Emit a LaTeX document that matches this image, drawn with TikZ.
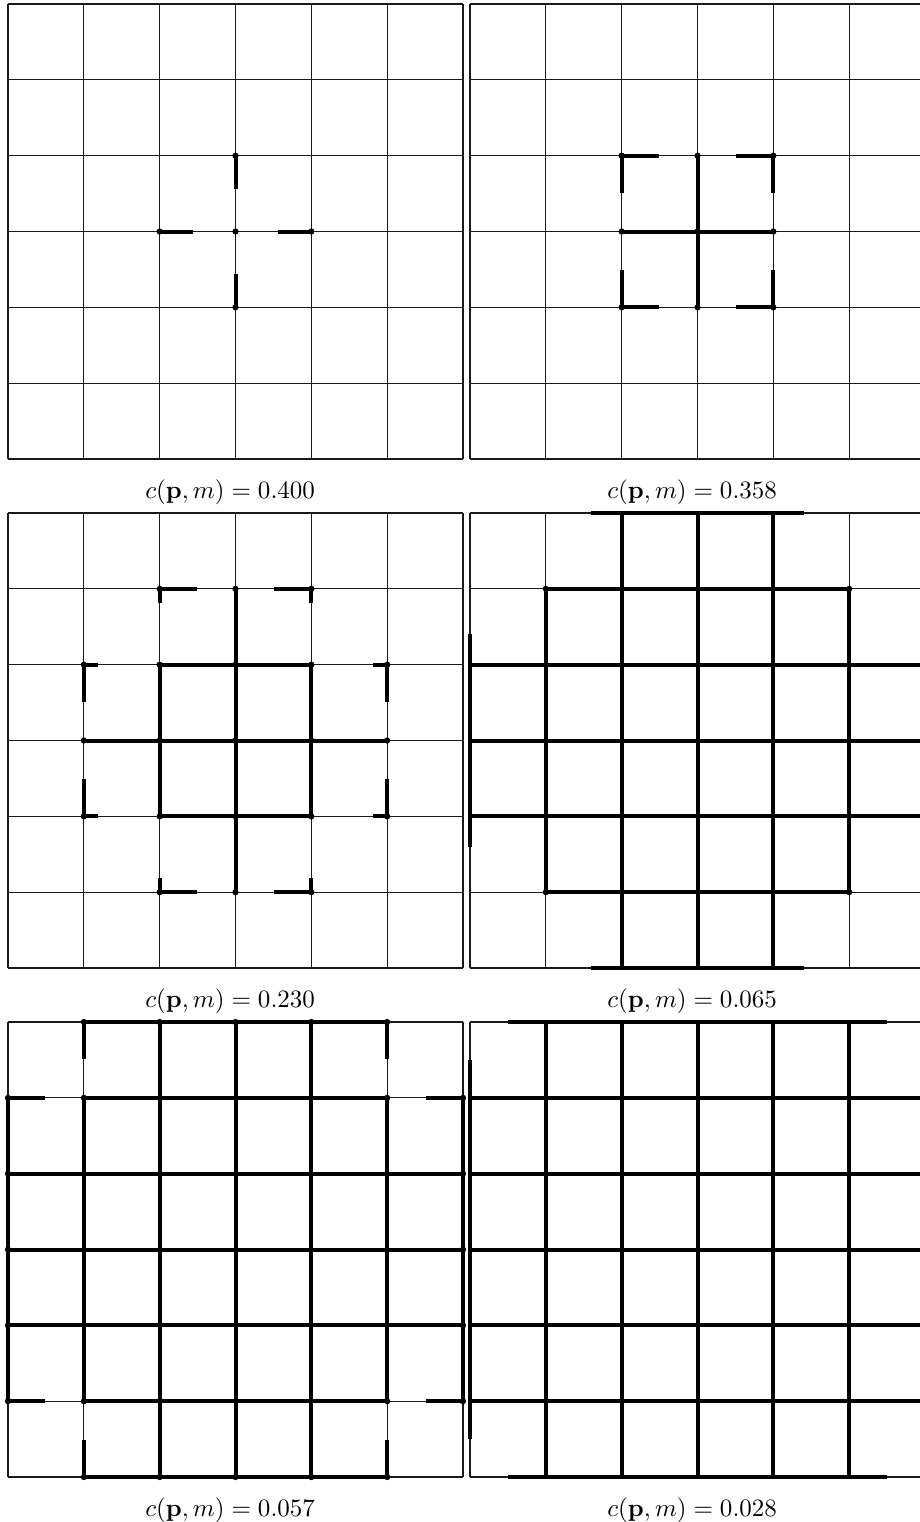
\documentclass[tikz,border=0pt]{standalone}
\begin{document}
\begin{tikzpicture}[x=0.4pt,y=-0.4pt,
  gridln/.style={line width=0.45pt, black!90},
  tk/.style={line width=1.6pt, black},
  dt/.style={fill=black, draw=none},
  lbl/.style={inner sep=0pt, font=\normalsize}]
\useasboundingbox (0,0) rectangle (920,1522);
\clip (0,0) rectangle (920,1522);
% ---------- Panel 1 ----------
\begin{scope}[shift={(3.2pt,-1.6pt)}, x=30.333pt, y=-30.333pt]
  \foreach \i in {0,...,6} {\draw[gridln] (\i,0) -- (\i,6); \draw[gridln] (0,\i) -- (6,\i);}
  \draw[tk] (3,2) -- (3,2.435);
  \draw[tk] (2,3) -- (2.435,3);
  \draw[tk] (4,3) -- (3.565,3);
  \draw[tk] (3,4) -- (3,3.565);
  \foreach \p in {(3,2),(2,3),(3,3),(4,3),(3,4)} \fill[dt] \p circle (1.25pt);
  \node[lbl] (c1) at (2.93,6.44) {$c(\mathbf{p},m) = 0.400$};
\end{scope}
% ---------- Panel 2 ----------
\begin{scope}[shift={(188pt,-1.6pt)}, x=30.333pt, y=-30.333pt]
  \foreach \i in {0,...,6} {\draw[gridln] (\i,0) -- (\i,6); \draw[gridln] (0,\i) -- (6,\i);}
  \draw[tk] (3,2) -- (3,4);
  \draw[tk] (2,3) -- (4,3);
  \draw[tk] (2.49,2) -- (2,2) -- (2,2.49);
  \draw[tk] (3.51,2) -- (4,2) -- (4,2.49);
  \draw[tk] (2,3.51) -- (2,4) -- (2.49,4);
  \draw[tk] (4,3.51) -- (4,4) -- (3.51,4);
  \foreach \i in {2,3,4} \foreach \j in {2,3,4} \fill[dt] (\i,\j) circle (1.25pt);
  \node[lbl] (c2) at (2.93,6.44) {$c(\mathbf{p},m) = 0.358$};
\end{scope}
% ---------- Panel 3 ----------
\begin{scope}[shift={(3.2pt,-205.2pt)}, x=30.333pt, y=-30.333pt]
  \foreach \i in {0,...,6} {\draw[gridln] (\i,0) -- (\i,6); \draw[gridln] (0,\i) -- (6,\i);}
  \draw[tk] (3,1) -- (3,5);
  \draw[tk] (1,3) -- (5,3);
  \draw[tk] (2,2) rectangle (4,4);
  \draw[tk] (2.49,1) -- (2,1) -- (2,1.185);
  \draw[tk] (3.51,1) -- (4,1) -- (4,1.185);
  \draw[tk] (2.49,5) -- (2,5) -- (2,4.815);
  \draw[tk] (3.51,5) -- (4,5) -- (4,4.815);
  \draw[tk] (1.185,2) -- (1,2) -- (1,2.49);
  \draw[tk] (4.815,2) -- (5,2) -- (5,2.49);
  \draw[tk] (1.185,4) -- (1,4) -- (1,3.51);
  \draw[tk] (4.815,4) -- (5,4) -- (5,3.51);
  \foreach \p in {(2,1),(3,1),(4,1),(1,2),(2,2),(3,2),(4,2),(5,2),(1,3),(2,3),(3,3),(4,3),(5,3),(1,4),(2,4),(3,4),(4,4),(5,4),(2,5),(3,5),(4,5)} \fill[dt] \p circle (1.25pt);
  \node[lbl] (c3) at (2.93,6.44) {$c(\mathbf{p},m) = 0.230$};
\end{scope}
% ---------- Panel 4 ----------
\begin{scope}[shift={(188pt,-205.2pt)}, x=30.333pt, y=-30.333pt]
  \foreach \i in {0,...,6} {\draw[gridln] (\i,0) -- (\i,6); \draw[gridln] (0,\i) -- (6,\i);}
  \foreach \k in {2,3,4} {\draw[tk] (\k,0) -- (\k,6); \draw[tk] (0,\k) -- (6,\k);}
  \draw[tk] (1,1) rectangle (5,5);
  \draw[tk] (0,1.6) -- (0,4.4);
  \draw[tk] (6,1.6) -- (6,4.4);
  \draw[tk] (1.6,0) -- (4.4,0);
  \draw[tk] (1.6,6) -- (4.4,6);
  \foreach \p in {(1,1),(5,1),(1,5),(5,5)} \fill[dt] \p circle (1.25pt);
  \node[lbl] (c4) at (2.93,6.44) {$c(\mathbf{p},m) = 0.065$};
\end{scope}
% ---------- Panel 5 ----------
\begin{scope}[shift={(3.2pt,-408.8pt)}, x=30.333pt, y=-30.333pt]
  \foreach \i in {0,...,6} {\draw[gridln] (\i,0) -- (\i,6); \draw[gridln] (0,\i) -- (6,\i);}
  \foreach \k in {2,3,4} {\draw[tk] (\k,0) -- (\k,6); \draw[tk] (0,\k) -- (6,\k);}
  \draw[tk] (1,1) rectangle (5,5);
  \draw[tk] (0,1) -- (0,5);
  \draw[tk] (6,1) -- (6,5);
  \draw[tk] (1,0) -- (5,0);
  \draw[tk] (1,6) -- (5,6);
  \draw[tk] (1,0) -- (1,0.49);
  \draw[tk] (5,0) -- (5,0.49);
  \draw[tk] (1,6) -- (1,5.51);
  \draw[tk] (5,6) -- (5,5.51);
  \draw[tk] (0,1) -- (0.49,1);
  \draw[tk] (0,5) -- (0.49,5);
  \draw[tk] (6,1) -- (5.51,1);
  \draw[tk] (6,5) -- (5.51,5);
  \foreach \k in {1,...,5} {\fill[dt] (\k,0) circle (1.25pt); \fill[dt] (\k,6) circle (1.25pt); \fill[dt] (0,\k) circle (1.25pt); \fill[dt] (6,\k) circle (1.25pt);}
  \foreach \p in {(1,1),(5,1),(1,5),(5,5)} \fill[dt] \p circle (1.25pt);
  \node[lbl] (c5) at (2.93,6.44) {$c(\mathbf{p},m) = 0.057$};
\end{scope}
% ---------- Panel 6 ----------
\begin{scope}[shift={(188pt,-408.8pt)}, x=30.333pt, y=-30.333pt]
  \foreach \i in {0,...,6} {\draw[gridln] (\i,0) -- (\i,6); \draw[gridln] (0,\i) -- (6,\i);}
  \foreach \k in {1,...,5} {\draw[tk] (\k,0) -- (\k,6); \draw[tk] (0,\k) -- (6,\k);}
  \draw[tk] (0,0.5) -- (0,5.5);
  \draw[tk] (6,0.5) -- (6,5.5);
  \draw[tk] (0.5,0) -- (5.5,0);
  \draw[tk] (0.5,6) -- (5.5,6);
  \node[lbl] (c6) at (2.93,6.44) {$c(\mathbf{p},m) = 0.028$};
\end{scope}
\end{tikzpicture}
\end{document}
